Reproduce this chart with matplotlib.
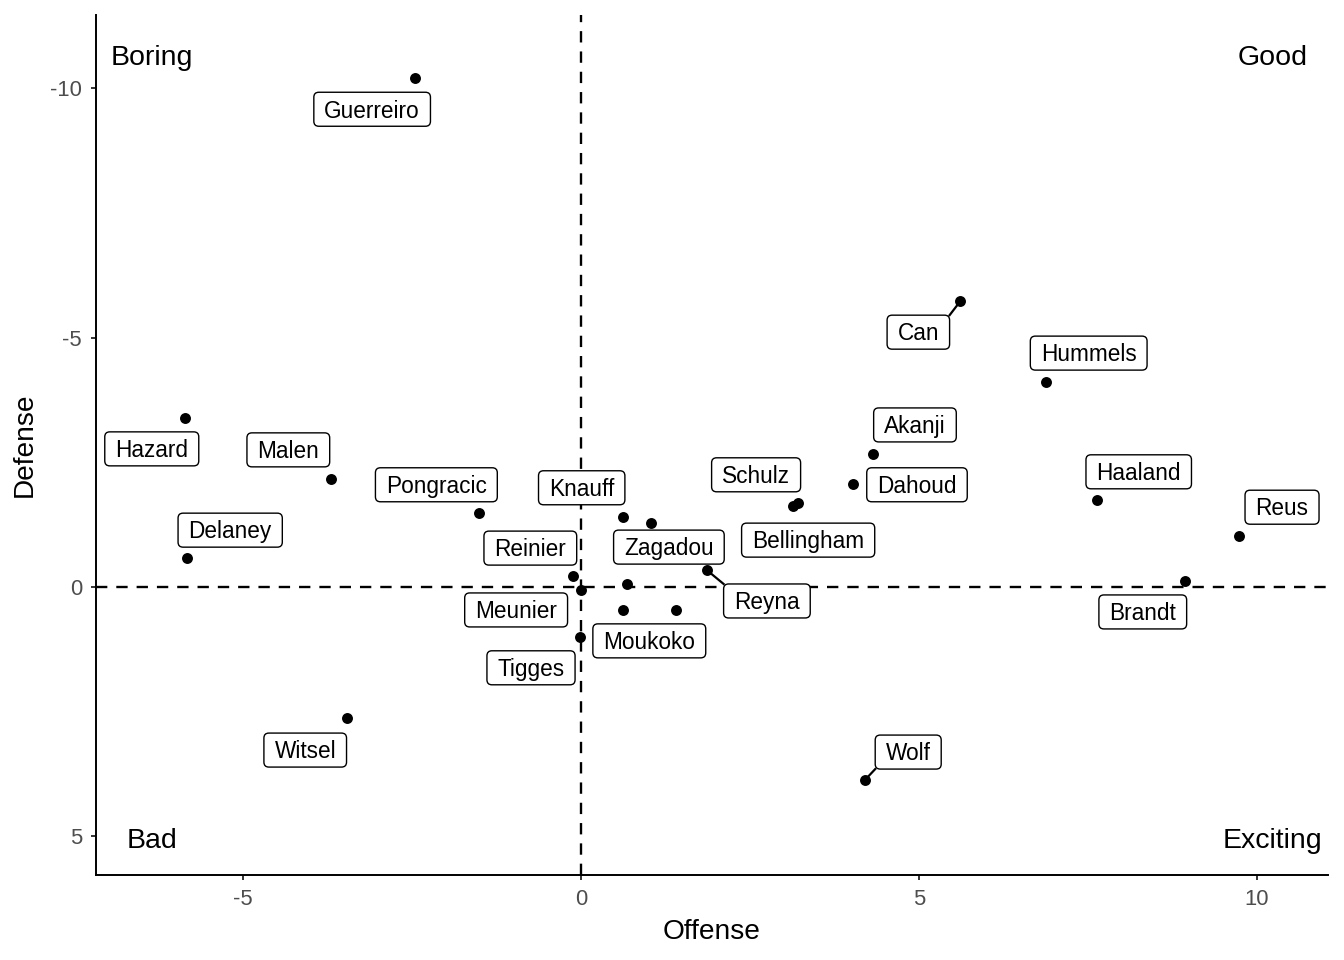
import numpy as np
import matplotlib.pyplot as plt
from matplotlib.patches import FancyBboxPatch
from matplotlib.lines import Line2D
from matplotlib.transforms import IdentityTransform, ScaledTranslation

plt.rcParams['font.family'] = ['Liberation Sans', 'DejaVu Sans']
plt.rcParams['axes.unicode_minus'] = False

# Players and their scores
players = ['Guerreiro', 'Can', 'Hummels', 'Hazard', 'Akanji', 'Malen', 'Dahoud',
           'Haaland', 'Schulz', 'Bellingham', 'Pongracic', 'Knauff', 'Zagadou',
           'Reus', 'Delaney', 'Reyna', 'Reinier', 'Meunier', 'Brandt', 'Moukoko',
           'Tigges', 'Witsel', 'Wolf']
offense = [-2.46, 5.61, 6.88, -5.86, 4.32, -3.70, 4.02,
           7.63, 3.14, 3.21, -1.51, 0.62, 1.04,
           9.73, -5.83, 1.86, -0.12, 0.00, 8.93, 0.62,
           -0.01, -3.46, 4.20]
defense = [-10.21, -5.73, -4.11, -3.39, -2.67, -2.17, -2.07,
           -1.74, -1.62, -1.68, -1.48, -1.40, -1.28,
           -1.02, -0.58, -0.34, -0.22, 0.06, -0.12, 0.46,
           1.00, 2.63, 3.87]

# players whose labels got dropped
extra_offense = [0.68, 1.41]
extra_defense = [-0.06, 0.46]

# label box centres (data units), placed like ggrepel did
label_x = [-3.09, 4.99, 7.51, -6.35, 4.94, -4.33, 4.97,
           8.25, 2.59, 3.36, -2.14, 0.01, 1.30,
           10.37, -5.19, 2.75, -0.75, -0.96, 8.31, 1.01,
           -0.74, -4.08, 4.84]
label_y = [-9.58, -5.11, -4.69, -2.77, -3.25, -2.75, -2.05,
           -2.31, -2.25, -0.94, -2.05, -1.99, -0.80,
           -1.60, -1.14, 0.28, -0.78, 0.46, 0.50, 1.08,
           1.62, 3.27, 3.31]
segment_players = ['Can', 'Reyna', 'Wolf']

quadrants = ['Boring', 'Good', 'Bad', 'Exciting']
quad_x = [-6.35, 10.23, -6.35, 10.23]
quad_y = [-10.60, -10.60, 5.09, 5.09]

fig = plt.figure(figsize=(13.44, 9.6), dpi=100)
ax = fig.add_axes([96 / 1344, 85 / 960, 1232 / 1344, 860 / 960])
ax.set_xlim(-7.175, 11.05)
ax.set_ylim(5.775, -11.47)

# quadrant lines
ax.axhline(0, color='black', lw=1.7, dashes=(4.8, 3.8), zorder=1)
ax.axvline(0, color='black', lw=1.7, dashes=(4.8, 3.8), zorder=1)

ax.scatter(offense + extra_offense, defense + extra_defense, s=62, color='black',
           linewidths=0, zorder=3)

for name, qx, qy in zip(quadrants, quad_x, quad_y):
    ax.text(qx, qy, name, ha='center', va='center', fontsize=20.5, color='black')

# Axes styling (theme_classic look)
for side in ['top', 'right']:
    ax.spines[side].set_visible(False)
for side in ['left', 'bottom']:
    ax.spines[side].set_linewidth(1.4)
    ax.spines[side].set_color('black')
ax.set_xticks([-5, 0, 5, 10])
ax.set_yticks([-10, -5, 0, 5])
ax.tick_params(length=3.6, width=1.4, color='#333333', labelcolor='#4D4D4D',
               labelsize=15.8, pad=6.5)
ax.set_xlabel('Offense', fontsize=20.2, va='center')
ax.set_ylabel('Defense', fontsize=20.2, va='center', ha='center')
ax.xaxis.set_label_coords(0.5, -57 / 860)
ax.yaxis.set_label_coords(-71 / 1232, 0.5)

# Labels with boxes
fig.canvas.draw()
renderer = fig.canvas.get_renderer()
cap = 16.5
padx = 10.5
box_h = 34
shift = ScaledTranslation(0, -cap / 2 / fig.dpi, fig.dpi_scale_trans)
for name, px, py, lx, ly in zip(players, offense, defense, label_x, label_y):
    cx, cy = ax.transData.transform((lx, ly))
    t = ax.text(lx, ly, name, ha='center', va='baseline', fontsize=16.3, color='black',
                transform=ax.transData + shift, zorder=6)
    w = t.get_window_extent(renderer).width
    x0 = cx - w / 2 - padx
    y0 = cy - box_h / 2
    bw = w + 2 * padx
    box = FancyBboxPatch((x0, y0), bw, box_h, boxstyle='round,pad=0,rounding_size=5',
                         transform=IdentityTransform(), facecolor='white',
                         edgecolor='black', linewidth=1.0, zorder=5)
    ax.add_artist(box)
    if name in segment_players:
        dx, dy = ax.transData.transform((px, py))
        ex = np.clip(dx, x0, x0 + bw)
        ey = np.clip(dy, y0, y0 + box_h)
        seg = Line2D([dx, ex], [dy, ey], transform=IdentityTransform(), color='black',
                     lw=1.6, zorder=2)
        ax.add_artist(seg)

fig.savefig('out.png', dpi=100)
